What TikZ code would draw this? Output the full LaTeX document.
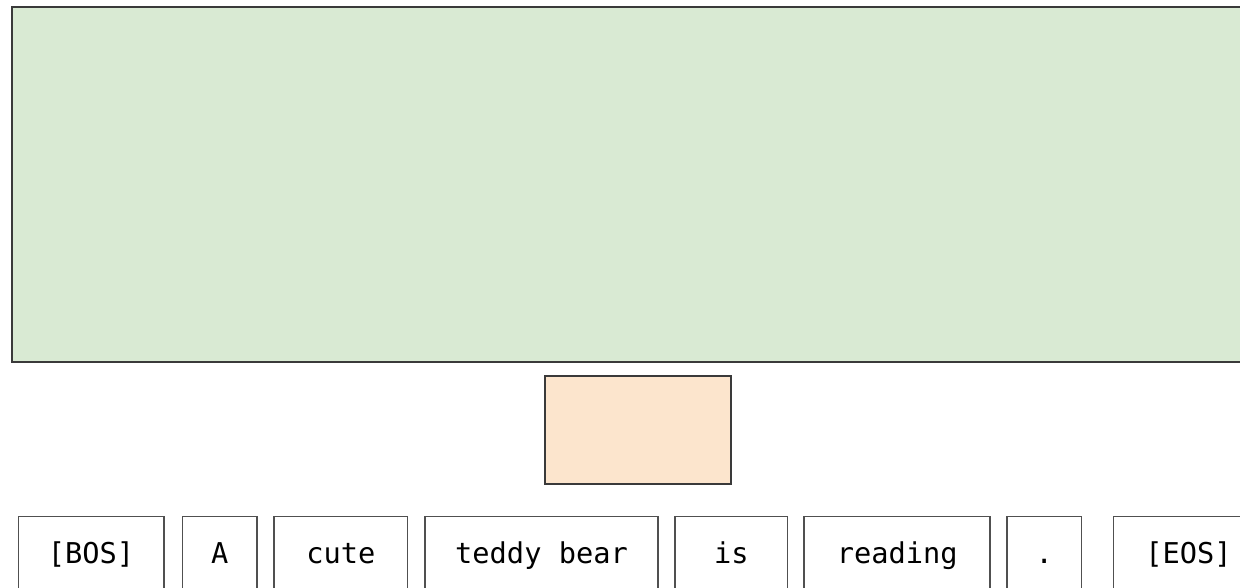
\documentclass[tikz,border=0pt]{standalone}
\usepackage{fontspec}
\newfontfamily\tokfont{DejaVu Sans Mono}
\definecolor{greenfill}{HTML}{D9EAD3}
\definecolor{orangefill}{HTML}{FCE5CD}
\definecolor{edge}{HTML}{3A3A3A}
\definecolor{tokedge}{HTML}{505050}
\begin{document}
\begin{tikzpicture}[x=0.75pt,y=-0.75pt,
  bigbox/.style={draw=edge,line width=1.7pt,fill=greenfill,rectangle,inner sep=0pt},
  midbox/.style={draw=edge,line width=1.7pt,fill=orangefill,rectangle,inner sep=0pt},
  tokbox/.style={draw=tokedge,line width=1.3pt,rectangle,inner sep=0pt,anchor=north west},
  toktext/.style={font=\tokfont\fontsize{21.5}{24}\selectfont,anchor=base,inner sep=0pt}]
\useasboundingbox (0,0) rectangle (1240,587);
\clip (0,0) rectangle (1240,587);
\node[bigbox,minimum width=1250*0.75pt,minimum height=355*0.75pt,anchor=north west] (model) at (10.5,6) {};
\node[midbox,minimum width=186*0.75pt,minimum height=108.5*0.75pt,anchor=north west] (emb) at (544,374.5) {};
% token boxes: left x, width
\foreach \name/\lx/\w/\txt in {bos/17.5/145.5/{[BOS]}, a/181.7/74.6/{A}, cute/273.3/133.4/{cute}, teddy/424/233.3/{teddy bear}, is/674.3/112.4/{is}, reading/803.3/186/{reading}, dot/1006/74.7/{.}, eos/1112.7/150/{[EOS]}}{
  \node[tokbox,minimum width=\w*0.75pt,minimum height=100*0.75pt] (\name) at (\lx,515.7) {};
  \node[toktext] (\name-t) at ([yshift=-47.3*0.75pt]\name.north) {\txt};
}
\end{tikzpicture}
\end{document}
